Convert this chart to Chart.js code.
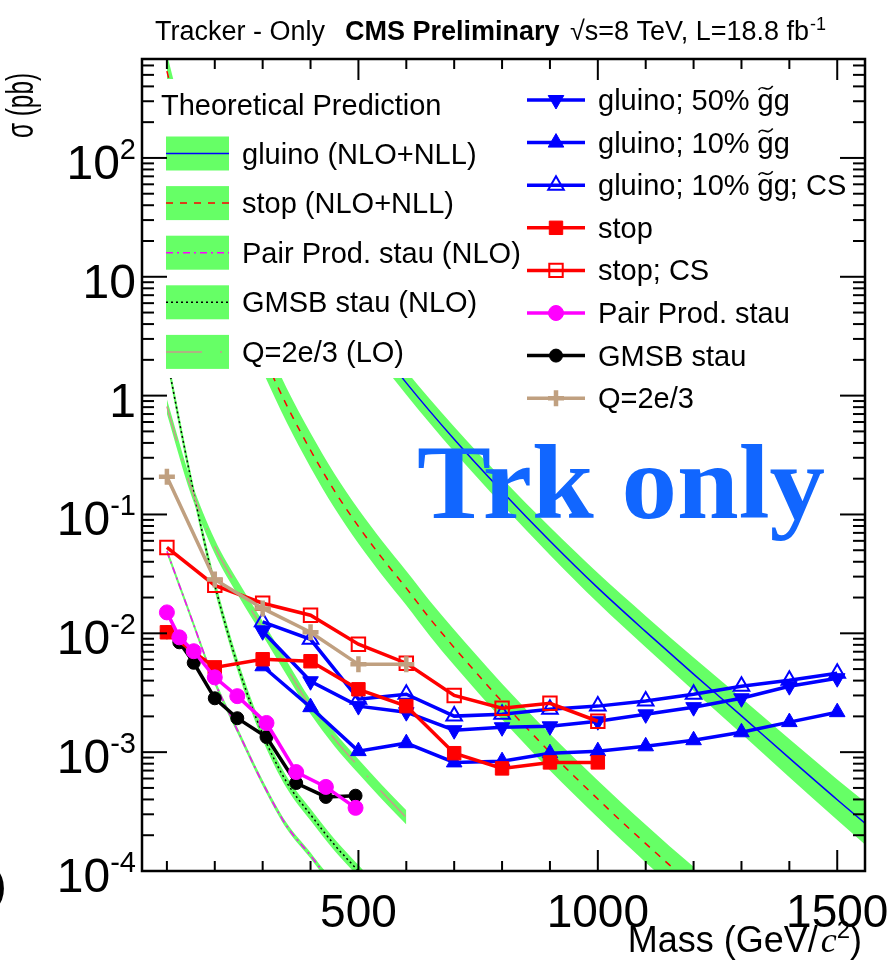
<!DOCTYPE html>
<html>
<head>
<meta charset="utf-8">
<title>Tracker-only HSCP cross-section limits</title>
<script src="https://cdn.jsdelivr.net/npm/chart.js@4.4.1/dist/chart.umd.min.js"></script>
<style>
  html, body { margin: 0; padding: 0; background: #ffffff; }
  canvas { display: block; }
</style>
</head>
<body>
<canvas id="xsec" width="891" height="961"></canvas>
<script>
// ---------- observed cross-section limits (pb) ----------
const massGluino = [300, 400, 500, 600, 700, 800, 900, 1000, 1100, 1200, 1300, 1400, 1500];
const gluino50   = [0.0104, 0.00395, 0.00244, 0.00217, 0.00153, 0.00162, 0.00165, 0.00182, 0.00208, 0.00239, 0.00284, 0.00359, 0.00419];
const gluino10   = [0.00528, 0.00239, 0.00102, 0.00119, 0.00082, 0.00084, 0.00098, 0.00102, 0.00112, 0.00126, 0.00147, 0.00179, 0.00217];
const gluino10CS = [0.0125, 0.0089, 0.00279, 0.00307, 0.00201, 0.00208, 0.0023, 0.00244, 0.00269, 0.00307, 0.00359, 0.00403, 0.00462];

const massStop = [100, 200, 300, 400, 500, 600, 700, 800, 900, 1000];
const stopLim   = [0.0102, 0.00517, 0.00605, 0.00582, 0.00338, 0.00244, 0.00098, 0.00073, 0.00082, 0.00082];
const stopCSLim = [0.0528, 0.0253, 0.0179, 0.0142, 0.0081, 0.0056, 0.0030, 0.00234, 0.00258, 0.00182];

const massStau = [100, 126, 156, 200, 247, 308, 370, 432, 494];
const pairStauLim = [0.0150, 0.00925, 0.00707, 0.00426, 0.00296, 0.00176, 0.00068, 0.00051, 0.00034];
const gmsbStauLim = [0.0102, 0.0084, 0.00565, 0.00284, 0.00193, 0.00134, 0.00055, 0.00042, 0.00043];

const massQ = [100, 200, 300, 400, 500, 600];
const q2Lim = [0.208, 0.0284, 0.0162, 0.0102, 0.00548, 0.00548];

// ---------- theoretical predictions (pb) ----------
// each band is central value x/÷ 10^(half width in decades)
const thGluinoMass = [300, 400, 500, 600, 700, 800, 900, 1000, 1100, 1200, 1300, 1400, 1500, 1600];
const thGluino     = [80.8, 16.1, 4.24, 1.28, 0.429, 0.156, 0.0598, 0.0241, 0.01033, 0.00453, 0.00202, 0.000891, 0.000398, 0.000182];
const thGluinoBand = [0.10, 0.10, 0.10, 0.10, 0.105, 0.11, 0.117, 0.125, 0.132, 0.14, 0.15, 0.16, 0.17, 0.185];

const thStopMass = [100, 150, 200, 250, 300, 350, 400, 450, 500, 550, 600, 650, 700, 750, 800, 850, 900, 950, 1000, 1050, 1100, 1150, 1200];
const thStop     = [537, 89, 20.9, 6.31, 2.24, 0.832, 0.347, 0.158, 0.0794, 0.0427, 0.024, 0.0132, 0.00759, 0.00447, 0.00266, 0.00162, 0.001, 0.000631, 0.000403, 0.00026, 0.00017, 0.000112, 0.000075];
const thStopBand = [0.145, 0.145, 0.145, 0.145, 0.145, 0.145, 0.145, 0.145, 0.145, 0.145, 0.145, 0.148, 0.15, 0.15, 0.15, 0.152, 0.154, 0.155, 0.156, 0.157, 0.158, 0.159, 0.16];

const thPairMass = [100, 125, 150, 200, 250, 300, 350, 400, 425, 450];
const thPair     = [0.049, 0.026, 0.0138, 0.0039, 0.00145, 0.00055, 0.00024, 0.000135, 0.0001, 0.000078];
const thPairBand = [0.025, 0.025, 0.025, 0.025, 0.025, 0.025, 0.025, 0.025, 0.025, 0.025];

const thGmsbMass = [100, 125, 150, 175, 200, 250, 300, 350, 400, 450, 500, 550];
const thGmsb     = [2.1, 0.63, 0.20, 0.0675, 0.0254, 0.00506, 0.00142, 0.00056, 0.000298, 0.000166, 0.0001, 0.00006];
const thGmsbBand = [0.05, 0.05, 0.05, 0.05, 0.05, 0.05, 0.05, 0.05, 0.05, 0.05, 0.05, 0.05];

const thQMass = [100, 150, 200, 250, 300, 350, 400, 450, 500, 550, 600];
const thQ     = [0.81, 0.17, 0.0537, 0.0234, 0.011, 0.00513, 0.0024, 0.00129, 0.000759, 0.000457, 0.000282];
const thQBand = [0.06, 0.06, 0.06, 0.06, 0.06, 0.06, 0.06, 0.06, 0.06, 0.06, 0.06];

// ---------- axes ----------
const xTickLabels = [500, 1000, 1500];
const yTickExponents = [-4, -3, -2, -1, 0, 1, 2];

// ---------- styling ----------
const SANS = '"Liberation Sans", Arial, Helvetica, sans-serif';
const SERIF = '"Liberation Serif", "Times New Roman", serif';
const GREEN = '#66ff66';
const BLUE = '#0000ff', RED = '#ff0000', MAGENTA = '#ff00ff', BLACK = '#000000', TAN = '#c0a080';

const pts = (xs, ys) => xs.map((m, i) => ({ x: m, y: ys[i] }));

function band(mass, vals, half, order) {
  const common = { pointRadius: 0, borderWidth: 0, borderColor: 'rgba(0,0,0,0)', cubicInterpolationMode: 'monotone', clip: 0, order };
  const up = vals.map((v, i) => v * Math.pow(10, half[i]));
  const lo = vals.map((v, i) => v / Math.pow(10, half[i]));
  return [
    Object.assign({ data: pts(mass, up), fill: '+1', backgroundColor: GREEN }, common),
    Object.assign({ data: pts(mass, lo), fill: false }, common)
  ];
}

const theoryStyles = {
  gluino: { color: BLUE, dash: [] },
  stop:   { color: RED, dash: [7, 7] },
  pair:   { color: MAGENTA, dash: [7, 4, 2, 4] },
  gmsb:   { color: BLACK, dash: [2, 3] },
  q:      { color: '#c89a8c', dash: [36, 18, 2, 18] }
};

function theoryLine(mass, vals, st, order) {
  return { data: pts(mass, vals), borderColor: st.color, borderWidth: 1.5, borderDash: st.dash,
           pointRadius: 0, fill: false, cubicInterpolationMode: 'monotone', clip: 0, order };
}

const seriesStyles = {
  g50:   { color: BLUE, style: 'triangle', r: 9, fill: true, rot: 180 },
  g10:   { color: BLUE, style: 'triangle', r: 9, fill: true, rot: 0 },
  g10cs: { color: BLUE, style: 'triangle', r: 9, fill: false, rot: 0 },
  stop:  { color: RED, style: 'rect', r: 9.5, fill: true, rot: 0 },
  stopcs:{ color: RED, style: 'rect', r: 9.5, fill: false, rot: 0 },
  pair:  { color: MAGENTA, style: 'circle', r: 7.5, fill: true, rot: 0 },
  gmsb:  { color: BLACK, style: 'circle', r: 6.5, fill: true, rot: 0 },
  q:     { color: TAN, style: 'cross', r: 8, fill: true, rot: 0 }
};

function series(mass, vals, st, order) {
  return { data: pts(mass, vals), borderColor: st.color, borderWidth: 3.5, fill: false, tension: 0,
           pointStyle: st.style, pointRadius: st.r, pointRotation: st.rot,
           pointBackgroundColor: st.fill ? st.color : 'rgba(0,0,0,0)', pointBorderColor: st.color,
           pointBorderWidth: st.style === 'cross' ? 4.5 : (st.fill ? 1 : 2), clip: 0, order };
}

const datasets = [
  ...band(thGluinoMass, thGluino, thGluinoBand, 60),
  ...band(thStopMass, thStop, thStopBand, 61),
  ...band(thQMass, thQ, thQBand, 62),
  ...band(thGmsbMass, thGmsb, thGmsbBand, 63),
  ...band(thPairMass, thPair, thPairBand, 64),
  theoryLine(thGluinoMass, thGluino, theoryStyles.gluino, 40),
  theoryLine(thStopMass, thStop, theoryStyles.stop, 41),
  theoryLine(thQMass, thQ, theoryStyles.q, 42),
  theoryLine(thGmsbMass, thGmsb, theoryStyles.gmsb, 43),
  theoryLine(thPairMass, thPair, theoryStyles.pair, 44),
  series(massQ, q2Lim, seriesStyles.q, 1),
  series(massStau, pairStauLim, seriesStyles.pair, 2),
  series(massStop, stopLim, seriesStyles.stop, 3),
  series(massStop, stopCSLim, seriesStyles.stopcs, 4),
  series(massStau, gmsbStauLim, seriesStyles.gmsb, 5),
  series(massGluino, gluino10CS, seriesStyles.g10cs, 6),
  series(massGluino, gluino10, seriesStyles.g10, 7),
  series(massGluino, gluino50, seriesStyles.g50, 8)
];

// ---------- drawing helpers ----------
function seg(ctx, x1, y1, x2, y2) { ctx.beginPath(); ctx.moveTo(x1, y1); ctx.lineTo(x2, y2); ctx.stroke(); }

function marker(ctx, st, x, y) {
  const r = st.r;
  ctx.save();
  ctx.translate(x, y);
  if (st.rot) ctx.rotate(st.rot * Math.PI / 180);
  ctx.strokeStyle = st.color; ctx.fillStyle = st.color;
  ctx.setLineDash([]);
  ctx.beginPath();
  if (st.style === 'rect') {
    const s = r * Math.SQRT1_2; ctx.rect(-s, -s, 2 * s, 2 * s);
  } else if (st.style === 'circle') {
    ctx.arc(0, 0, r, 0, 2 * Math.PI);
  } else if (st.style === 'triangle') {
    ctx.moveTo(0, -r);
    ctx.lineTo(r * Math.sin(2 * Math.PI / 3), -r * Math.cos(2 * Math.PI / 3));
    ctx.lineTo(r * Math.sin(4 * Math.PI / 3), -r * Math.cos(4 * Math.PI / 3));
    ctx.closePath();
  } else if (st.style === 'cross') {
    ctx.lineWidth = 4.5;
    ctx.moveTo(0, -r); ctx.lineTo(0, r); ctx.moveTo(-r, 0); ctx.lineTo(r, 0);
    ctx.stroke(); ctx.restore(); return;
  }
  if (st.fill) { ctx.fill(); ctx.lineWidth = 1; ctx.stroke(); }
  else { ctx.lineWidth = 2; ctx.stroke(); }
  ctx.restore();
}

// label with a tilde over the first "g" of "gg" (gluino-gluon state)
function gluinoLabel(ctx, pre, post, x, y) {
  ctx.fillText(pre, x, y);
  const cx = x + ctx.measureText(pre).width;
  const gw = ctx.measureText('g').width;
  ctx.fillText('gg' + post, cx, y);
  ctx.save();
  ctx.lineWidth = 1.6; ctx.strokeStyle = '#000'; ctx.setLineDash([]);
  const ty = y - 22;
  ctx.beginPath();
  ctx.moveTo(cx + 1, ty + 2);
  ctx.bezierCurveTo(cx + 5, ty - 5, cx + 9, ty + 6, cx + gw - 1, ty - 2);
  ctx.stroke();
  ctx.restore();
}

const decorations = {
  id: 'decorations',
  afterDatasetsDraw(chart) {
    const ctx = chart.ctx;
    ctx.save();

    // text inside the plot
    ctx.fillStyle = '#1166ff';
    ctx.font = `bold 105px ${SERIF}`;
    ctx.textBaseline = 'alphabetic';
    const trk = 'Trk only';
    const tw = ctx.measureText(trk).width;
    ctx.save();
    ctx.translate(417, 518);
    ctx.scale(408 / tw, 1);
    ctx.fillText(trk, 0, 0);
    ctx.restore();

    // theory legend
    ctx.fillStyle = '#ffffff';
    ctx.fillRect(150, 79, 376, 299);
    ctx.fillStyle = '#000';
    ctx.font = `29px ${SANS}`;
    ctx.fillText('Theoretical Prediction', 161, 115);
    const theoryRows = [
      ['gluino (NLO+NLL)', theoryStyles.gluino],
      ['stop (NLO+NLL)', theoryStyles.stop],
      ['Pair Prod. stau (NLO)', theoryStyles.pair],
      ['GMSB stau (NLO)', theoryStyles.gmsb],
      ['Q=2e/3 (LO)', theoryStyles.q]
    ];
    theoryRows.forEach(([label, st], i) => {
      const cy = 153.5 + i * 49.6;
      ctx.fillStyle = GREEN;
      ctx.fillRect(166, cy - 17, 63, 34);
      ctx.strokeStyle = st.color; ctx.lineWidth = 1.5; ctx.setLineDash(st.dash);
      seg(ctx, 166, cy, 229, cy);
      ctx.setLineDash([]);
      ctx.fillStyle = '#000';
      ctx.fillText(label, 242, cy + 10);
    });

    // limit legend
    ctx.fillStyle = '#ffffff';
    ctx.fillRect(522, 80, 334, 332);
    const limitRows = [
      [seriesStyles.g50, 'gluino; 50% ', ''],
      [seriesStyles.g10, 'gluino; 10% ', ''],
      [seriesStyles.g10cs, 'gluino; 10% ', '; CS'],
      [seriesStyles.stop, 'stop', null],
      [seriesStyles.stopcs, 'stop; CS', null],
      [seriesStyles.pair, 'Pair Prod. stau', null],
      [seriesStyles.gmsb, 'GMSB stau', null],
      [seriesStyles.q, 'Q=2e/3', null]
    ];
    limitRows.forEach(([st, pre, post], i) => {
      const cy = 100 + i * 42.6;
      ctx.strokeStyle = st.color; ctx.lineWidth = 3.5; ctx.setLineDash([]);
      seg(ctx, 527, cy, 585, cy);
      marker(ctx, st, 556, cy);
      ctx.fillStyle = '#000';
      ctx.font = `29px ${SANS}`;
      if (post === null) ctx.fillText(pre, 598, cy + 10);
      else gluinoLabel(ctx, pre, post, 598, cy + 10);
    });
    ctx.restore();
  },
  afterDraw(chart) {
    const ctx = chart.ctx, a = chart.chartArea;
    const xs = chart.scales.x, ys = chart.scales.y;
    ctx.save();
    ctx.setLineDash([]);
    ctx.strokeStyle = '#000';

    // ticks (inside the frame)
    ctx.lineWidth = 2;
    for (let m = 100; m <= 1500; m += 100) {
      const px = xs.getPixelForValue(m);
      const len = m % 500 === 0 ? 21 : 10;
      seg(ctx, px, a.bottom, px, a.bottom - len);
      seg(ctx, px, a.top, px, a.top + len);
    }
    for (let k = -4; k <= 2; k++) {
      for (let d = 1; d <= 9; d++) {
        const v = d * Math.pow(10, k);
        if (v > ys.max) break;
        const py = ys.getPixelForValue(v);
        const len = d === 1 ? 25 : 12;
        seg(ctx, a.left, py, a.left + len, py);
        seg(ctx, a.right, py, a.right - len, py);
      }
    }
    // frame
    ctx.lineWidth = 2.5;
    ctx.strokeRect(a.left, a.top, a.right - a.left, a.bottom - a.top);

    // tick labels
    ctx.fillStyle = '#000';
    ctx.textBaseline = 'alphabetic';
    ctx.textAlign = 'center';
    ctx.font = `46px ${SANS}`;
    xTickLabels.forEach(m => ctx.fillText(String(m), xs.getPixelForValue(m), 927));
    ctx.textAlign = 'left';
    yTickExponents.forEach(e => {
      const py = ys.getPixelForValue(Math.pow(10, e)) + 4 + 17;
      const base = e === 0 ? '1' : '10';
      const sup = (e === 0 || e === 1) ? '' : String(e);
      ctx.font = `29px ${SANS}`;
      const sw = sup ? ctx.measureText(sup).width : 0;
      ctx.font = `48px ${SANS}`;
      const bw = ctx.measureText(base).width;
      const right = 136;
      ctx.fillText(base, right - sw - bw, py);
      if (sup) { ctx.font = `29px ${SANS}`; ctx.fillText(sup, right - sw, py - 20); }
    });

    // x-axis title: Mass (GeV/c^2)
    const parts = [
      ['Mass (GeV/', `36px ${SANS}`, 0],
      ['c', `italic 36px ${SERIF}`, 0],
      ['2', `24px ${SANS}`, -14],
      [')', `36px ${SANS}`, 0]
    ];
    let total = 0;
    parts.forEach(p => { ctx.font = p[1]; total += ctx.measureText(p[0]).width + (p[0] === 'c' ? 3 : 0); });
    let px = 862 - total;
    parts.forEach(p => {
      ctx.font = p[1];
      if (p[0] === 'c') px += 3;
      ctx.fillText(p[0], px, 952 + p[2]);
      px += ctx.measureText(p[0]).width;
    });

    // y-axis title
    ctx.save();
    ctx.translate(33, 138);
    ctx.rotate(-Math.PI / 2);
    ctx.scale(0.64, 1);
    ctx.font = `38px ${SANS}`;
    ctx.fillText('\u03c3 (pb)', 0, 0);
    ctx.restore();

    // fragment of a neighbouring label at the left margin
    ctx.font = `44px ${SANS}`;
    ctx.fillText(')', -8, 900);

    // header
    ctx.font = `27px ${SANS}`;
    ctx.fillText('Tracker - Only', 155, 40);
    ctx.font = `bold 27px ${SANS}`;
    ctx.fillText('CMS Preliminary', 345, 40);
    ctx.font = `27px ${SANS}`;
    const hdr = '\u221As=8 TeV, L=18.8 fb';
    ctx.fillText(hdr, 570, 40);
    const hw = ctx.measureText(hdr).width;
    ctx.font = `18px ${SANS}`;
    ctx.fillText('-1', 570 + hw + 1, 30);
    ctx.restore();
  }
};

new Chart(document.getElementById('xsec'), {
  type: 'line',
  data: { datasets },
  options: {
    responsive: false,
    animation: false,
    devicePixelRatio: 1,
    layout: { padding: { left: 142, top: 59, right: 26, bottom: 90 } },
    scales: {
      x: { type: 'linear', min: 48, max: 1558, display: false },
      y: { type: 'logarithmic', min: 1e-4, max: 680, display: false }
    },
    plugins: {
      legend: { display: false },
      tooltip: { enabled: false },
      filler: { propagate: false }
    }
  },
  plugins: [decorations]
});
</script>
</body>
</html>
